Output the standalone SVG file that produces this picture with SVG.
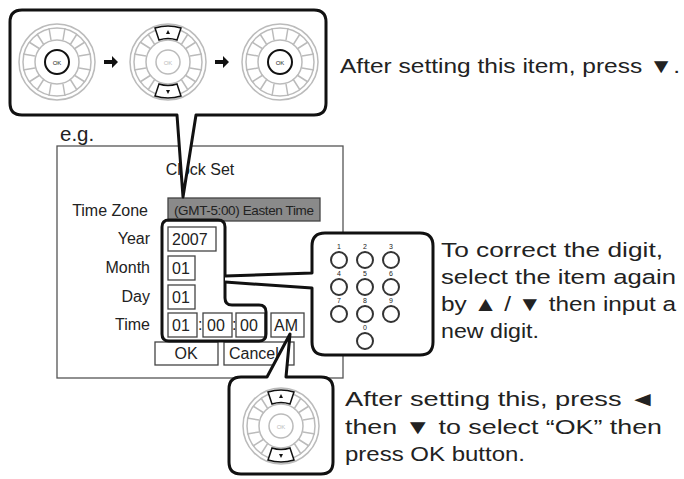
<svg xmlns="http://www.w3.org/2000/svg" xmlns:xlink="http://www.w3.org/1999/xlink" width="684" height="479" viewBox="0 0 684 479">
<style>
text{font-family:"Liberation Sans",Arial,sans-serif;fill:#222}
.big{font-size:20.5px}
.lbl{font-size:16px}
.co{fill:#fff;stroke:#111;stroke-width:3;stroke-linejoin:round}
.bx{fill:#fff;stroke:#444;stroke-width:1.3}
.g{fill:none;stroke:#bbb;stroke-width:1.5}
.key{fill:#fff;stroke:#333;stroke-width:2}
.kn{font-size:7px;text-anchor:middle}
</style>
<defs>
<g id="dial">
<circle r="38" class="g"/>
<circle r="34" class="g"/>
<circle r="22" class="g"/>
<g class="g">
<path d="M-8,-34 L-6,-22 M8,-34 L6,-22 M-8,34 L-6,22 M8,34 L6,22 M-34,-8 L-22,-6 M-34,8 L-22,6 M34,-8 L22,-6 M34,8 L22,6"/>
<path d="M-20,-28 L-13,-17 M-28,-20 L-17,-13 M20,-28 L13,-17 M28,-20 L17,-13 M-20,28 L-13,17 M-28,20 L-17,13 M20,28 L13,17 M28,20 L17,13"/>
</g>
</g>
<path id="arr" d="M0,-2 H8 V-6 L14,0 L8,6 V2 H0 Z" fill="#111"/>
</defs>
<text class="big" x="60" y="141">e.g.</text>
<g id="screen">
<rect x="57" y="146" width="286" height="232" fill="#fff" stroke="#555" stroke-width="1.3"/>
<text class="lbl" x="200" y="175" text-anchor="middle">Clock Set</text>
<text class="lbl" x="148" y="216" text-anchor="end">Time Zone</text>
<rect x="168" y="198" width="152" height="23" fill="#8a8a8a" stroke="#444" stroke-width="1.3"/>
<text x="174" y="215" font-size="13.5" textLength="140">(GMT-5:00) Easten Time</text>
<text class="lbl" x="150" y="244" text-anchor="end">Year</text>
<rect class="bx" x="168" y="227" width="48" height="24"/>
<text class="lbl" x="172" y="245">2007</text>
<text class="lbl" x="150" y="273" text-anchor="end">Month</text>
<rect class="bx" x="168" y="256" width="27" height="24"/>
<text class="lbl" x="172" y="274">01</text>
<text class="lbl" x="150" y="302" text-anchor="end">Day</text>
<rect class="bx" x="168" y="285" width="27" height="24"/>
<text class="lbl" x="172" y="303">01</text>
<text class="lbl" x="150" y="330" text-anchor="end">Time</text>
<rect class="bx" x="168" y="313" width="29" height="24"/>
<text class="lbl" x="172" y="331">01</text>
<text class="lbl" x="198" y="330">:</text>
<rect class="bx" x="203" y="313" width="29" height="24"/>
<text class="lbl" x="207" y="331">00</text>
<text class="lbl" x="232" y="330">:</text>
<rect class="bx" x="236" y="313" width="29" height="24"/>
<text class="lbl" x="240" y="331">00</text>
<rect class="bx" x="271" y="313" width="33" height="24"/>
<text class="lbl" x="274" y="331">AM</text>
<rect class="bx" x="155" y="342" width="63" height="23"/>
<text class="lbl" x="186" y="359" text-anchor="middle">OK</text>
<rect class="bx" x="224" y="342" width="70" height="23"/>
<text class="lbl" x="229" y="359">Cancel</text>
</g>
<g id="top-callout">
<path class="co" d="M22,10 H314 Q326,10 326,22 V103 Q326,115 314,115 H196 L183,197 L177,115 H22 Q10,115 10,103 V22 Q10,10 22,10 Z"/>
<use xlink:href="#dial" x="57" y="62"/>
<circle cx="57" cy="62" r="12" fill="#fff" stroke="#111" stroke-width="2"/>
<text x="57" y="64.5" font-size="6" text-anchor="middle">OK</text>
<use xlink:href="#arr" x="104" y="62"/>
<use xlink:href="#dial" x="168" y="62"/>
<circle cx="168" cy="62" r="12" fill="none" stroke="#bbb" stroke-width="1.5"/>
<text x="168" y="64.5" font-size="6" text-anchor="middle" style="fill:#bbb">OK</text>
<path d="M155,28 Q168,24 181,28 L177,40 Q168,37 159,40 Z M155,96 Q168,100 181,96 L177,84 Q168,87 159,84 Z" fill="#fff" stroke="#111" stroke-width="1.5"/>
<path d="M168,30 l-2,4 h4 Z M168,94 l-2,-4 h4 Z" fill="#111"/>
<use xlink:href="#arr" x="215" y="62"/>
<use xlink:href="#dial" x="280" y="62"/>
<circle cx="280" cy="62" r="12" fill="#fff" stroke="#111" stroke-width="2"/>
<text x="280" y="64.5" font-size="6" text-anchor="middle">OK</text>
</g>
<text class="big" x="340" y="73" textLength="340" lengthAdjust="spacingAndGlyphs">After setting this item, press ▼.</text>
<g id="mid-callout">
<path d="M169,220 H218 Q225,220 225,227 V298 Q225,305 232,305 H259 Q266,305 266,312 V334 Q266,341 259,341 H169 Q162,341 162,334 V227 Q162,220 169,220 Z" fill="none" stroke="#111" stroke-width="3"/>
</g>
<g id="keypad">
<path class="co" d="M225,276 L312,273 V246 Q312,233 325,233 H420 Q433,233 433,246 V342 Q433,355 420,355 H325 Q312,355 312,342 V288 L225,282"/>
<g>
<circle class="key" cx="339" cy="260" r="8"/><circle class="key" cx="365" cy="260" r="8"/><circle class="key" cx="391" cy="260" r="8"/>
<circle class="key" cx="339" cy="287" r="8"/><circle class="key" cx="365" cy="287" r="8"/><circle class="key" cx="391" cy="287" r="8"/>
<circle class="key" cx="339" cy="314" r="8"/><circle class="key" cx="365" cy="314" r="8"/><circle class="key" cx="391" cy="314" r="8"/>
<circle class="key" cx="365" cy="341" r="8"/>
<text class="kn" x="339" y="249">1</text><text class="kn" x="365" y="249">2</text><text class="kn" x="391" y="249">3</text>
<text class="kn" x="339" y="276">4</text><text class="kn" x="365" y="276">5</text><text class="kn" x="391" y="276">6</text>
<text class="kn" x="339" y="303">7</text><text class="kn" x="365" y="303">8</text><text class="kn" x="391" y="303">9</text>
<text class="kn" x="365" y="330">0</text>
</g>
</g>
<text class="big" x="441" y="257" textLength="222" lengthAdjust="spacingAndGlyphs">To correct the digit,</text>
<text class="big" x="441" y="284" textLength="235" lengthAdjust="spacingAndGlyphs">select the item again</text>
<text class="big" x="441" y="311" textLength="235" lengthAdjust="spacingAndGlyphs">by ▲ / ▼ then input a</text>
<text class="big" x="441" y="338" textLength="98" lengthAdjust="spacingAndGlyphs">new digit.</text>
<g id="bottom-callout">
<path class="co" d="M241,377 H267 L290,334 L286,377 H321 Q333,377 333,389 V462 Q333,474 321,474 H241 Q229,474 229,462 V389 Q229,377 241,377 Z"/>
<use xlink:href="#dial" x="281" y="426"/>
<circle cx="281" cy="426" r="12" fill="none" stroke="#bbb" stroke-width="1.5"/>
<text x="281" y="428.5" font-size="6" text-anchor="middle" style="fill:#bbb">OK</text>
<path d="M268,392 Q281,388 294,392 L290,404 Q281,401 272,404 Z M268,460 Q281,464 294,460 L290,448 Q281,451 272,448 Z" fill="#fff" stroke="#111" stroke-width="1.5"/>
<path d="M281,394 l-2,4 h4 Z M281,458 l-2,-4 h4 Z" fill="#111"/>
</g>
<text class="big" x="345" y="406" textLength="311" lengthAdjust="spacingAndGlyphs">After setting this, press ◄</text>
<text class="big" x="345" y="434" textLength="317" lengthAdjust="spacingAndGlyphs">then ▼ to select “OK” then</text>
<text class="big" x="345" y="461" textLength="180" lengthAdjust="spacingAndGlyphs">press OK button.</text>
</svg>
